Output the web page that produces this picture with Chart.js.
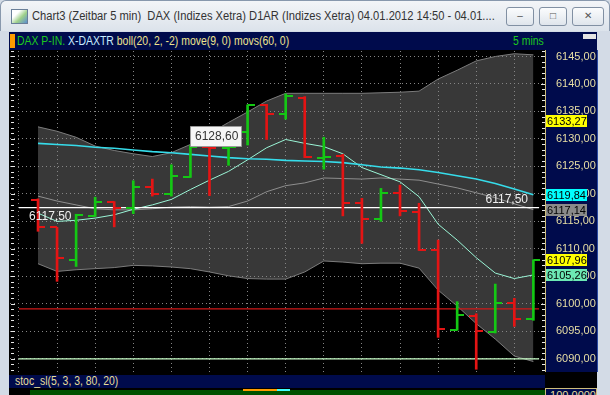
<!DOCTYPE html>
<html>
<head>
<meta charset="utf-8">
<script src="https://cdn.jsdelivr.net/npm/chart.js@4.4.1/dist/chart.umd.min.js"></script>
<style>
  body { margin: 0; width: 610px; height: 395px; overflow: hidden; position: relative;
         background: #d3dbe6; font-family: "Liberation Sans", Arial, sans-serif; }
  #titlebar { position: absolute; left: 0; top: 0; width: 608px; height: 30px;
              border: 1px solid #8898ad; border-bottom: none; border-radius: 6px 6px 0 0;
              background: linear-gradient(#f3f5f8, #dce3eb); }
  #titlebar .icon { position: absolute; left: 10px; top: 8px; width: 15px; height: 13px;
                    border: 1px solid #6a7f99; background: linear-gradient(135deg, #fff 30%, #9fd08a 60%, #5b8fd0); }
  #titlebar .txt { position: absolute; left: 31px; top: 8px; font-size: 12px; color: #333;
                   white-space: nowrap; transform: scaleX(0.93); transform-origin: 0 0; }
  .btn { position: absolute; top: 6px; width: 26px; height: 17px; border: 1px solid #8190a3;
         border-radius: 3px; background: linear-gradient(#fbfcfd, #dfe5ec); font-size: 10px;
         color: #555; text-align: center; line-height: 16px; }
  #legend { position: absolute; left: 9px; top: 32px; width: 588px; height: 18px; background: #000b4c;
            font-size: 12px; line-height: 18px; white-space: nowrap; }
  #legend .mark { position: absolute; left: 1px; top: 2px; width: 5px; height: 14px; background: #ff9c00; }
  #legend .txt { position: absolute; left: 8px; top: 0; transform: scaleX(0.87); transform-origin: 0 0; }
  #plotbg { position: absolute; left: 9px; top: 50px; width: 536px; height: 322px; background: #000; }
  #axisbg { position: absolute; left: 545px; top: 50px; width: 51px; height: 322px; background: #000b4c;
            border-left: 1px solid #cdbd7c; border-right: 1px solid #2a4aa0; }
  #stocbar { position: absolute; left: 9px; top: 372px; width: 588px; height: 23px; background: #000; }
  #stochead { position: absolute; left: 9px; top: 375px; width: 536px; height: 13px; background: #000b4c;
              font-size: 12px; line-height: 13px; color: #e6de9a; }
  #stochead span { position: absolute; left: 6px; transform: scaleX(0.87); transform-origin: 0 0; }
  #stocfill { position: absolute; left: 30px; top: 390px; width: 515px; height: 5px; background: #005200; }
  #stocaxis { position: absolute; left: 545px; top: 388px; width: 50px; height: 12px; background: #000b4c;
              border: 1px solid #cdbd7c; font-size: 11px; color: #e6de9a; text-align: right; line-height: 12px; }
  canvas { position: absolute; left: 0; top: 0; }
</style>
</head>
<body>
<div id="titlebar">
  <div class="icon"></div>
  <div class="txt">Chart3 (Zeitbar 5 min)&nbsp; DAX (Indizes Xetra) D1AR (Indizes Xetra) 04.01.2012 14:50 - 04.01....</div>
  <div class="btn" style="left:505px">&#8211;</div>
  <div class="btn" style="left:538px">&#9633;</div>
  <div class="btn" style="left:571px;width:30px">&#10005;</div>
</div>
<div id="legend">
  <div class="mark"></div>
  <div class="txt"><span style="color:#1ec81e">DAX P-IN.</span> <span style="color:#c8ecff">X-DAXTR</span> <span style="color:#efe38e">boll(20, 2, -2) move(9, 0) movs(60, 0)</span></div>
  <span style="position:absolute;left:504px;color:#1ec81e;transform:scaleX(0.87);transform-origin:0 0">5 mins</span>
  <div style="position:absolute;left:574px;top:2px;width:13px;height:5px;background:#e4e4e4"></div>
</div>
<div id="plotbg"></div>
<div id="axisbg"></div>
<div id="stocbar"></div>
<div id="stochead"><span>stoc_sl(5, 3, 3, 80, 20)</span></div>
<div id="stocfill"></div>
<div style="position:absolute;left:243px;top:389px;width:34px;height:2px;background:#ff9c00"></div>
<div style="position:absolute;left:277px;top:389px;width:13px;height:2px;background:#40ffff"></div>
<div id="stocaxis">100,0000</div>
<canvas id="chart" width="610" height="395"></canvas>

<script>
// 5 min bars, 04.01.2012
const opens  = [6118.9, 6113.9, 6108.0, 6115.9, 6118.6, 6117.5, 6121.3, 6120.0, 6123.0, 6128.6,
                6128.3, 6131.3, 6136.1, 6134.5, 6137.4, 6126.6, 6126.9, 6118.3, 6115.4, 6120.2,
                6116.8, 6109.8, 6095.3, 6097.8, 6094.8, 6100.2, 6097.3];
const highs  = [6119.1, 6113.9, 6116.3, 6119.4, 6118.6, 6122.4, 6122.7, 6125.3, 6128.8, 6128.7,
                6128.9, 6136.2, 6136.3, 6138.2, 6137.7, 6130.3, 6127.2, 6119.2, 6121.0, 6121.6,
                6118.3, 6111.6, 6100.4, 6098.2, 6103.6, 6101.0, 6108.0];
const lows   = [6113.2, 6104.1, 6106.8, 6115.9, 6114.0, 6116.4, 6119.6, 6119.6, 6123.0, 6119.7,
                6125.2, 6128.9, 6129.9, 6133.6, 6126.6, 6124.5, 6116.0, 6111.0, 6115.0, 6116.0,
                6109.7, 6093.9, 6095.2, 6088.1, 6094.7, 6095.9, 6097.0];
const closes = [6113.9, 6108.3, 6116.1, 6118.6, 6117.4, 6121.2, 6120.0, 6123.2, 6128.6, 6128.3,
                6128.6, 6136.1, 6134.5, 6137.8, 6126.7, 6126.8, 6118.3, 6115.4, 6120.2, 6116.9,
                6109.8, 6095.4, 6098.0, 6095.0, 6100.1, 6097.3, 6107.96];

// boll(20, 2, -2)
const bollUpper = [6132.2, 6131.4, 6130.3, 6128.7, 6127.9, 6127.3, 6126.8, 6127.5, 6129.0, 6131.0,
                   6133.0, 6134.9, 6136.9, 6138.3, 6138.3, 6138.3, 6138.3, 6138.3, 6138.4, 6138.5,
                   6138.7, 6140.9, 6142.5, 6144.2, 6145.0, 6145.5, 6145.3];
const bollLower = [6107.3, 6105.9, 6106.2, 6106.4, 6106.6, 6107.0, 6106.9, 6106.7, 6106.4, 6105.8,
                   6105.1, 6104.6, 6104.5, 6104.5, 6105.8, 6107.8, 6107.6, 6107.3, 6107.4, 6107.4,
                   6106.5, 6102.5, 6099.6, 6096.4, 6093.6, 6090.5, 6089.5];
const bollMid   = [6119.6, 6118.7, 6118.0, 6117.3, 6117.1, 6117.1, 6117.3, 6117.6, 6117.7, 6117.6,
                   6117.7, 6118.7, 6120.4, 6121.5, 6122.0, 6122.9, 6122.8, 6122.7, 6122.9, 6122.7,
                   6122.5, 6121.8, 6121.1, 6120.2, 6119.3, 6118.2, 6117.14];
// move(9, 0)
const move9  = [6116.5, 6115.0, 6115.2, 6115.6, 6116.2, 6117.2, 6118.0, 6119.0, 6120.8, 6122.5,
                6124.1, 6126.2, 6128.4, 6129.9, 6129.2, 6128.6, 6127.3, 6124.8, 6123.5, 6122.2,
                6119.5, 6114.5, 6111.6, 6108.4, 6105.6, 6104.6, 6105.26];
// movs(60, 0)
const movs60 = [6129.2, 6129.0, 6128.8, 6128.5, 6128.3, 6128.0, 6127.7, 6127.5, 6127.2, 6126.9,
                6126.6, 6126.4, 6126.3, 6126.1, 6126.0, 6125.9, 6125.7, 6125.3, 6124.9, 6124.7,
                6124.4, 6123.9, 6123.3, 6122.7, 6121.9, 6120.9, 6119.84];

// horizontal lines drawn on the chart
const levelValues = [6117.5, 6099.1, 6090.0];
const levelColors = ['#ffffff', '#d01818', '#c8ffc8'];
const levelSpan = [-1, 26.3];

// price markers on the right axis
const markValues = [6133.27, 6119.84, 6117.14, 6107.96, 6105.26];
const markColors = ['#ffff00', '#00ffff', '#8a8a8a', '#ffff00', '#6ce8b4'];

const infoValue = 6128.60;   // box above bar 8
const infoBar = 8;

const yMin = 6087.6, yMax = 6146.0, yStep = 5;
const xMin = -1.47, xMax = 26.61;

const fmt = v => v.toFixed(2).replace('.', ',');
const idx = opens.map((_, i) => i);
const up = i => closes[i] >= opens[i];
const GREEN = '#14c814', RED = '#e41414';
const AXIS_FONT = '11px "Liberation Sans", Arial';

// little canvases used as point styles for open / close ticks
function tick(color, side) {
  const c = document.createElement('canvas');
  c.width = 14; c.height = 2;
  const g = c.getContext('2d');
  g.fillStyle = color;
  if (side === 'left') g.fillRect(0, 0, 7, 2); else g.fillRect(7, 0, 7, 2);
  return c;
}
const ticks = {
  gl: tick(GREEN, 'left'), gr: tick(GREEN, 'right'),
  rl: tick(RED, 'left'), rr: tick(RED, 'right')
};

const line = (data, color, width, order) => ({
  type: 'line', data: idx.map(i => ({x: i, y: data[i]})), borderColor: color,
  borderWidth: width, pointRadius: 0, tension: 0, fill: false, order: order
});

const datasets = [
  line(bollMid, '#8e8e8e', 1, 8),
  line(bollUpper, '#7c7c7c', 1, 9),
  Object.assign(line(bollLower, '#7c7c7c', 1, 9), {fill: '-1', backgroundColor: '#383838'}),
  line(movs60, '#36dcea', 1.6, 7),
  line(move9, '#9af5d6', 1, 7)
];
levelValues.forEach((v, k) => {
  datasets.push({
    type: 'line', data: levelSpan.map(x => ({x: x, y: v})), borderColor: levelColors[k],
    borderWidth: 1.2, pointRadius: 0, fill: false, order: 6
  });
});
datasets.push({
  type: 'bar', data: idx.map(i => ({x: i, y: [lows[i], highs[i]]})),
  backgroundColor: idx.map(i => up(i) ? GREEN : RED),
  barThickness: 2, grouped: false, borderWidth: 0, order: 2
});
datasets.push({
  type: 'line', showLine: false, data: idx.map(i => ({x: i, y: opens[i]})),
  pointStyle: ctx => up(ctx.dataIndex) ? ticks.gl : ticks.rl, pointRadius: 4, order: 1
});
datasets.push({
  type: 'line', showLine: false, data: idx.map(i => ({x: i, y: closes[i]})),
  pointStyle: ctx => up(ctx.dataIndex) ? ticks.gr : ticks.rr, pointRadius: 4, order: 1
});

const decor = {
  id: 'decor',
  afterDatasetsDraw(chart) {
    const {ctx, chartArea: a, scales: {x, y}} = chart;
    ctx.save();
    // small tick marks on both edges, one per point
    ctx.strokeStyle = '#e8e8e8';
    ctx.lineWidth = 1;
    for (let v = Math.ceil(yMin); v <= yMax; v++) {
      const py = Math.round(y.getPixelForValue(v)) + 0.5;
      const len = v % 5 === 0 ? 4 : 3;
      ctx.beginPath();
      ctx.moveTo(a.left + 1, py); ctx.lineTo(a.left + 1 + len, py);
      ctx.moveTo(a.right - len, py); ctx.lineTo(a.right, py);
      ctx.stroke();
    }
    // labels of the white level line
    ctx.font = '12px "Liberation Sans", Arial';
    ctx.fillStyle = '#f0f0f0';
    ctx.textBaseline = 'middle';
    const ly = y.getPixelForValue(levelValues[0]);
    ctx.textAlign = 'left';
    ctx.fillText(fmt(levelValues[0]), a.left + 19, ly + 9);
    ctx.textAlign = 'right';
    ctx.fillText(fmt(levelValues[0]), a.right - 17, ly - 8);
    // info box
    const bx = Math.round(x.getPixelForValue(infoBar)), by = Math.round(y.getPixelForValue(infoValue));
    ctx.fillStyle = '#f6f6f6';
    ctx.strokeStyle = '#9a9a9a';
    ctx.beginPath();
    ctx.rect(bx + 0.5, by - 20.5, 51, 20);
    ctx.fill(); ctx.stroke();
    ctx.fillStyle = '#333';
    ctx.textAlign = 'left';
    ctx.font = '12px "Liberation Sans", Arial';
    ctx.fillText(fmt(infoValue), bx + 5, by - 10);
    ctx.restore();
  },
  afterDraw(chart) {
    const {ctx, chartArea: a, scales: {y}} = chart;
    ctx.save();
    ctx.font = AXIS_FONT;
    ctx.textBaseline = 'middle';
    ctx.textAlign = 'left';
    markValues.forEach((v, k) => {
      const py = Math.round(y.getPixelForValue(v));
      ctx.fillStyle = markColors[k];
      ctx.fillRect(a.right + 1, py - 6, 41, 12);
      ctx.fillStyle = '#000';
      ctx.fillText(fmt(v), a.right + 2, py + 1);
    });
    ctx.restore();
  }
};

new Chart(document.getElementById('chart'), {
  type: 'line',
  data: {datasets: datasets},
  plugins: [decor],
  options: {
    responsive: false,
    animation: false,
    events: [],
    layout: {padding: {left: 10, top: 51, right: 13, bottom: 23}},
    plugins: {legend: {display: false}, tooltip: {enabled: false}, filler: {drawTime: 'beforeDraw'}},
    scales: {
      x: {
        type: 'linear', min: xMin, max: xMax, offset: false,
        ticks: {display: false, stepSize: 2, includeBounds: false},
        grid: {color: '#858585', drawTicks: false, lineWidth: 1},
        border: {display: false, dash: [1, 3]},
        afterFit: s => { s.height = 0; }
      },
      y: {
        position: 'right', min: yMin, max: yMax,
        ticks: {stepSize: yStep, includeBounds: false, color: '#e8dfa4', padding: 11, crossAlign: 'near',
                font: {family: '"Liberation Sans", Arial', size: 11},
                callback: v => fmt(v)},
        grid: {color: '#858585', drawTicks: false, lineWidth: 1},
        border: {display: false, dash: [1, 3]},
        afterFit: s => { s.width = 52; }
      }
    }
  }
});
</script>
</body>
</html>
